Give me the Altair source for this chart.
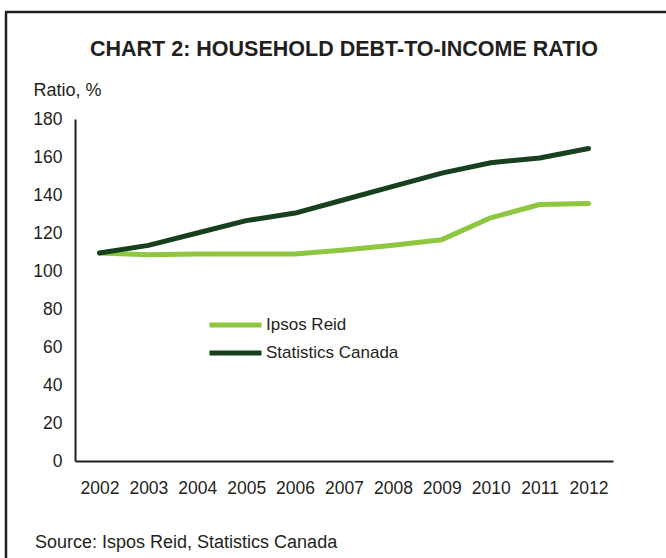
import altair as alt
import pandas as pd

years = [2002, 2003, 2004, 2005, 2006, 2007, 2008, 2009, 2010, 2011, 2012]
ipsos_reid = [109.5, 108.5, 109, 109, 109, 111, 113.5, 116.5, 128, 135, 135.5]
statcan = [109.5, 113.5, 120, 126.5, 130.5, 137.5, 144.5, 151.5, 157, 159.5, 164.5]
series_names = ["Ipsos Reid", "Statistics Canada"]
series_colors = ["#8DC63F", "#17401F"]
y_ticks = [0, 20, 40, 60, 80, 100, 120, 140, 160, 180]

title_text = "CHART 2: HOUSEHOLD DEBT-TO-INCOME RATIO"
source_text = "Source: Ispos Reid, Statistics Canada"

rows = []
for name, vals in zip(series_names, [ipsos_reid, statcan]):
    for yr, v in zip(years, vals):
        rows.append({"year": yr, "value": v, "series": name})
df = pd.DataFrame(rows)

FONT = "Liberation Sans"
INK = "#231F20"

lines = alt.Chart(df).mark_line(strokeWidth=5, strokeCap="round", strokeJoin="round").encode(
    x=alt.X("year:O", scale=alt.Scale(type="point", padding=0.5),
            axis=alt.Axis(title=None, labelAngle=0, ticks=False, tickSize=0,
                          labelPadding=18, labelFontSize=17.5, labelFont=FONT,
                          labelColor=INK, domainColor=INK, domainWidth=2)),
    y=alt.Y("value:Q", scale=alt.Scale(domain=[0, 180], nice=False, zero=True),
            axis=alt.Axis(title="Ratio, %", titleAngle=0, titleAlign="left",
                          titleBaseline="alphabetic", titleX=-42, titleY=-24,
                          titleFont=FONT, titleFontSize=18, titleFontWeight="normal",
                          titleColor=INK, values=y_ticks, ticks=False, tickSize=0,
                          labelPadding=13, labelFontSize=17.5, labelFont=FONT,
                          labelColor=INK, domainColor=INK, domainWidth=2, grid=False)),
    color=alt.Color("series:N", scale=alt.Scale(domain=series_names, range=series_colors),
                    legend=alt.Legend(title=None, orient="none", legendX=132, legendY=196,
                                      symbolType="stroke", symbolSize=2704,
                                      symbolStrokeWidth=5, labelFontSize=17, labelFont=FONT,
                                      labelColor=INK, labelOffset=2, rowPadding=8,
                                      clipHeight=20, padding=0)),
)

title = alt.Chart(pd.DataFrame({"t": [title_text]})).mark_text(
    font=FONT, fontSize=21.5, fontWeight="bold", color=INK, align="center",
    baseline="alphabetic").encode(x=alt.value(269), y=alt.value(-63), text="t:N")

source = alt.Chart(pd.DataFrame({"t": [source_text]})).mark_text(
    font=FONT, fontSize=18, color=INK, align="left",
    baseline="alphabetic").encode(x=alt.value(-40), y=alt.value(429), text="t:N")

frame_left = alt.Chart(pd.DataFrame({"a": [0]})).mark_rule(color=INK, strokeWidth=2.5).encode(
    x=alt.value(-69), y=alt.value(-107), y2=alt.value(460))
frame_top = alt.Chart(pd.DataFrame({"a": [0]})).mark_rule(color=INK, strokeWidth=2.5).encode(
    y=alt.value(-107), x=alt.value(-70), x2=alt.value(620))

chart = alt.layer(frame_left, frame_top, title, source, lines).properties(
    width=538, height=342,
    autosize=alt.AutoSizeParams(type="none"),
    padding={"left": 75, "top": 119, "right": 53, "bottom": 97},
    background="white",
).configure_view(stroke=None)

chart.save("out.html", embed_options={"renderer": "svg", "actions": False})
